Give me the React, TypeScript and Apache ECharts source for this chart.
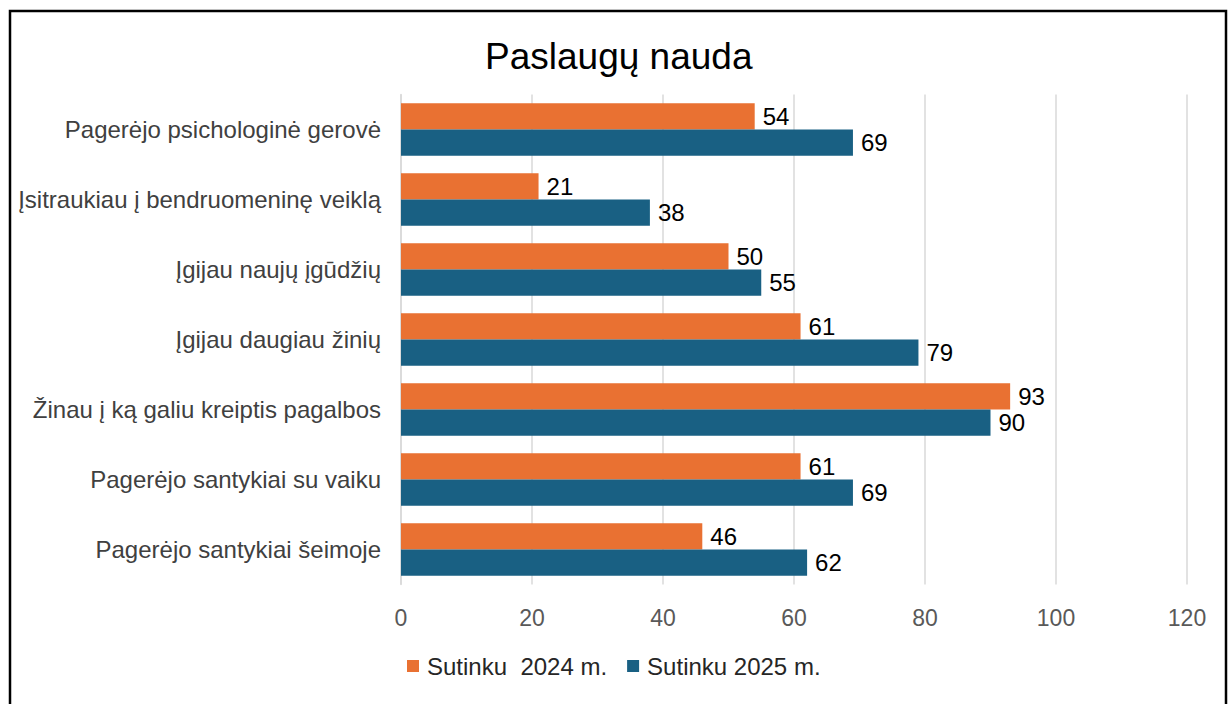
import React, { useEffect, useRef } from "react";
import * as echarts from "echarts";

const categories = [
  "Pagerėjo psichologinė gerovė",
  "Įsitraukiau į bendruomeninę veiklą",
  "Įgijau naujų įgūdžių",
  "Įgijau daugiau žinių",
  "Žinau į ką galiu kreiptis pagalbos",
  "Pagerėjo santykiai su vaiku",
  "Pagerėjo santykiai šeimoje",
];
const series2024 = [54, 21, 50, 61, 93, 61, 46];
const series2025 = [69, 38, 55, 79, 90, 69, 62];
const seriesNames = ["Sutinku  2024 m.", "Sutinku 2025 m."];
const colors = ["#E97132", "#196083"];
const FONT = "'Liberation Sans', Arial, sans-serif";

export default function App() {
  const ref = useRef<HTMLDivElement>(null);
  useEffect(() => {
    const chart = echarts.init(ref.current!, null, { renderer: "svg" });
    const label = {
      show: true,
      position: "right" as const,
      distance: 8,
      color: "#000",
      fontSize: 24,
      fontFamily: FONT,
    };
    chart.setOption({
      animation: false,
      backgroundColor: "#fff",
      textStyle: { fontFamily: FONT },
      title: {
        text: "Paslaugų nauda",
        left: 480,
        top: 33,
        textStyle: { fontSize: 37, fontWeight: "normal", color: "#000", fontFamily: FONT },
      },
      legend: {
        top: 649,
        left: 402,
        itemWidth: 12,
        itemHeight: 12,
        itemGap: 20,
        icon: "rect",
        textStyle: { fontSize: 24, color: "#262626", fontFamily: FONT, padding: [0, 0, 0, 3] },
        data: seriesNames,
      },
      grid: { left: 401, right: 41, top: 94.5, height: 490, containLabel: false },
      xAxis: {
        type: "value",
        min: 0,
        max: 120,
        interval: 20,
        axisLine: { show: false },
        axisTick: { show: false },
        splitLine: { lineStyle: { color: "#D9D9D9", width: 1.5 } },
        axisLabel: { fontSize: 23, color: "#595959", margin: 22, fontFamily: FONT },
      },
      yAxis: {
        type: "category",
        inverse: true,
        data: categories,
        axisLine: { show: true, lineStyle: { color: "#D9D9D9", width: 1.5 } },
        axisTick: { show: false },
        axisLabel: { fontSize: 24, color: "#404040", margin: 20, fontFamily: FONT },
      },
      series: [
        {
          name: seriesNames[0],
          type: "bar",
          data: series2024,
          itemStyle: { color: colors[0] },
          barGap: "0%",
          barCategoryGap: "25%",
          label,
        },
        {
          name: seriesNames[1],
          type: "bar",
          data: series2025,
          itemStyle: { color: colors[1] },
          barGap: "0%",
          barCategoryGap: "25%",
          label,
        },
      ],
      graphic: [
        {
          type: "rect",
          shape: { x: 10, y: 11, width: 1216, height: 720 },
          style: { fill: "none", stroke: "#000", lineWidth: 2.5 },
          silent: true,
          z: 100,
        },
      ],
    });
    return () => chart.dispose();
  }, []);
  return (
    <div
      ref={ref}
      style={{ position: "absolute", left: 0, top: 0, width: 1228, height: 704 }}
    />
  );
}
